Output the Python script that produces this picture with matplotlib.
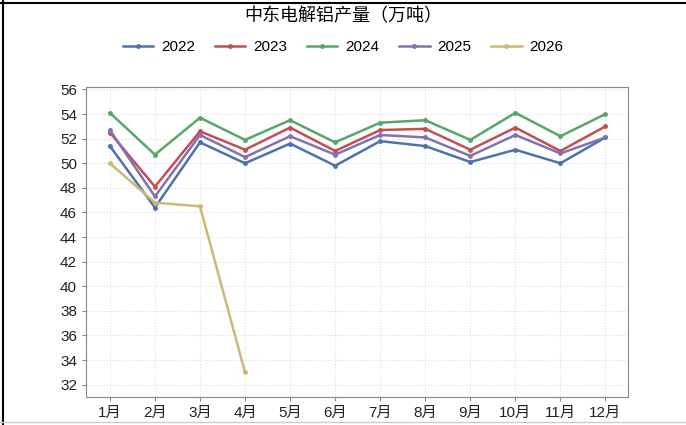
import matplotlib
matplotlib.use('Agg')
import matplotlib.pyplot as plt
from matplotlib.lines import Line2D

plt.rcParams['font.family'] = ['Liberation Sans', 'Noto Sans CJK SC', 'DejaVu Sans']

months = ['1月', '2月', '3月', '4月', '5月', '6月', '7月', '8月', '9月', '10月', '11月', '12月']
y2022 = [51.4, 46.4, 51.7, 50.0, 51.6, 49.8, 51.8, 51.4, 50.1, 51.1, 50.0, 52.1]
y2023 = [52.5, 48.1, 52.6, 51.1, 52.9, 51.0, 52.7, 52.8, 51.1, 52.9, 51.0, 53.0]
y2024 = [54.1, 50.7, 53.7, 51.9, 53.5, 51.7, 53.3, 53.5, 51.9, 54.1, 52.2, 54.0]
y2025 = [52.7, 47.3, 52.3, 50.5, 52.2, 50.7, 52.3, 52.1, 50.6, 52.3, 50.8, 52.1]
y2026 = [50.0, 46.8, 46.5, 33.0]

series = [('2022', y2022, '#4C72B0'), ('2023', y2023, '#C44E52'),
          ('2024', y2024, '#55A868'), ('2025', y2025, '#8172B2'),
          ('2026', y2026, '#CCB974')]

fig = plt.figure(figsize=(6.86, 4.25), dpi=100)
ax = fig.add_axes([86 / 686, 1 - 397 / 425, (628 - 86) / 686, (397 - 87) / 425])

x = list(range(1, 13))
for name, vals, col in series:
    ax.plot(x[:len(vals)], vals, color=col, lw=1.8, marker='o', ms=2.5, label=name)

ax.set_xlim(0.47, 12.5)
ax.set_ylim(31, 56.2)
ax.set_xticks(x)
ax.set_xticklabels(months)
ax.set_yticks(range(32, 57, 2))
ax.tick_params(labelsize=11, colors='#222222', length=3, color='#888888')
ax.grid(True, ls=':', color='#dddddd', lw=0.8)
for s in ax.spines.values():
    s.set_color('#888888')

fig.text(0.5, 1 - 17 / 425, '中东电解铝产量（万吨）', ha='center', va='center', fontsize=13)
fig.legend(loc='center', bbox_to_anchor=(0.5, 1 - 47 / 425), ncol=5, frameon=False,
           fontsize=11, handlelength=2.0, handletextpad=0.5, columnspacing=1.3)

# screenshot frame lines
fig.add_artist(Line2D([0, 1], [1 - 3 / 425, 1 - 3 / 425], color='black', lw=1.5))
fig.add_artist(Line2D([3 / 686, 3 / 686], [0, 1], color='black', lw=1.5))
fig.add_artist(Line2D([0, 1], [3 / 425, 3 / 425], color='#cccccc', lw=1))

fig.savefig('out.png', dpi=100)
